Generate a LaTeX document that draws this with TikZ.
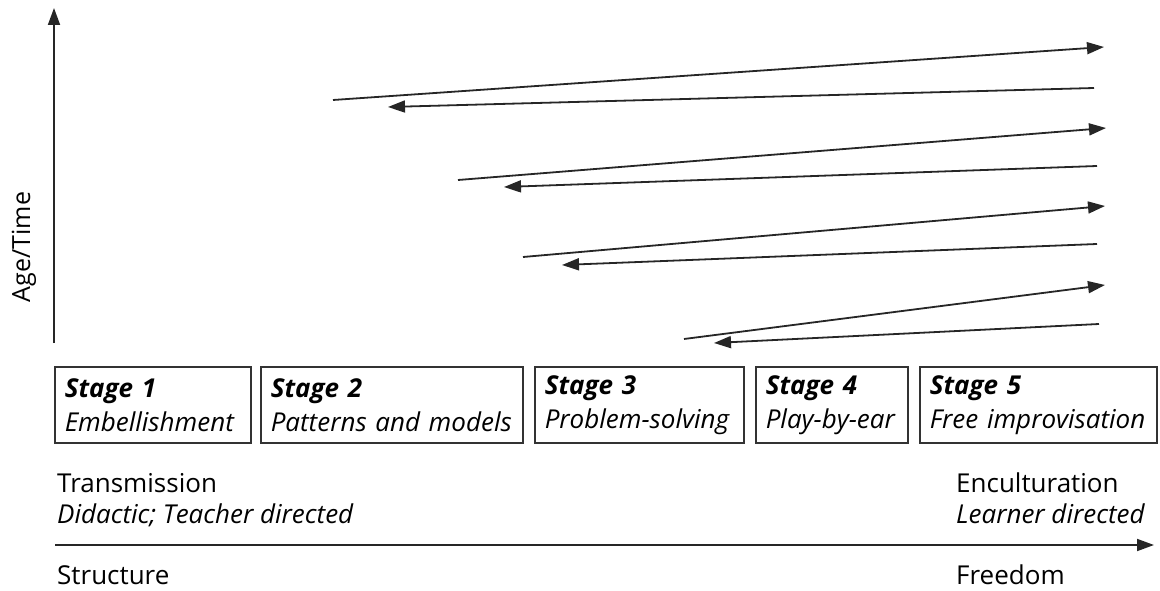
\documentclass[tikz,border=0pt]{standalone}
\usepackage{fontspec}
\setmainfont{Open Sans}
\usetikzlibrary{positioning,calc,arrows.meta}

\tikzset{
  stagebox/.style={draw=black!80, line width=1.5pt, anchor=north west, align=left,
    inner xsep=10pt, inner ysep=0pt, minimum height=76pt,
    font=\fontsize{26}{34}\selectfont\itshape},
  lbl/.style={anchor=base west, inner sep=0pt, font=\fontsize{26}{30}\selectfont},
  run/.style={line width=1.8pt, black!85},
  tip/.style={run, -{Triangle[length=17pt,width=12pt]}}
}

\begin{document}
\begin{tikzpicture}[x=1pt,y=-1pt]
  \useasboundingbox (0,0) rectangle (1160,591);

  % axes
  \path
  (54,343) coordinate (O)
  (54,8) coordinate (T)
  (55,545) coordinate (L)
  (1154,545) coordinate (R);
  \draw[tip] (O) -- (T);
  \draw[tip] (L) -- (R);
  \node[font=\fontsize{25}{30}\selectfont, rotate=90] (age) at (24,247) {Age/Time};

  % zig-zag
  \path
  (333,100) coordinate (a1) (1104,47) coordinate (b1)
  (1094,88) coordinate (c1) (388,107) coordinate (d1)
  (458,180) coordinate (a2) (1106,128) coordinate (b2)
  (1097,166) coordinate (c2) (504,187) coordinate (d2)
  (523,257) coordinate (a3) (1105,206) coordinate (b3)
  (1097,244) coordinate (c3) (562,265) coordinate (d3)
  (684,339) coordinate (a4) (1105,285) coordinate (b4)
  (1099,324) coordinate (c4) (714,343) coordinate (d4);
  \foreach \i in {1,2,3,4} {
    \draw[tip] (a\i) -- (b\i);
    \draw[tip] (c\i) -- (d\i);
  }

  % stages
  \foreach \n/\x/\w/\t in {1/54/196/Embellishment, 2/260/262/Patterns and models,
      3/534/209/Problem-solving, 4/755/152/Play-by-ear, 5/919/237/Free improvisation} {
    \pgfmathsetmacro\tw{\w-20}
    \node[stagebox, text width=\tw pt] (s\n) at (\x,366) {\textbf{Stage \n}\\\t};
  }

  % bottom labels
  \node[lbl] (trans) at (57,492) {Transmission};
  \node[lbl, font=\fontsize{26}{30}\selectfont\itshape] (didac) at (57,523) {Didactic; Teacher directed};
  \node[lbl] (struct) at (57,584) {Structure};
  \node[lbl] (encult) at (956,492) {Enculturation};
  \node[lbl, font=\fontsize{26}{30}\selectfont\itshape] (learn) at (956,523) {Learner directed};
  \node[lbl] (free) at (956,584) {Freedom};
\end{tikzpicture}
\end{document}
